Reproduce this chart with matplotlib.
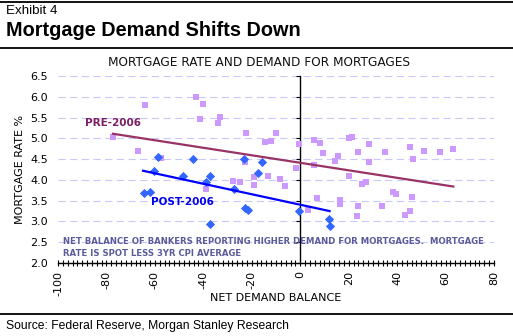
import numpy as np
import matplotlib
matplotlib.use('Agg')
import matplotlib.pyplot as plt
from matplotlib.ticker import MultipleLocator
from matplotlib.lines import Line2D

plt.rcParams['axes.unicode_minus'] = False

# pre-2006 observations (net demand balance, real mortgage rate)
pre_x = [-77.3, -67.1, -64.0, -57.6, -43.2, -40.3, -41.4, -33.2, -34.0, -22.4,
         -22.6, -27.9, -24.8, -38.8, -19.0, -18.9, -9.9, -14.6, -12.1, -0.3,
         -1.9, -13.1, -8.3, -6.1, 5.5, 8.2, 9.6, 5.5, 7.1, 3.1,
         14.2, 15.8, 20.0, 21.4, 24.0, 20.3, 16.6, 16.6, 23.9, 23.5,
         25.6, 27.2, 28.6, 28.6, 35.2, 33.7, 38.2, 39.6, 45.5, 46.5,
         46.0, 45.5, 43.3, 50.9, 57.5, 63.2]
pre_y = [5.04, 4.70, 5.81, 4.53, 5.99, 5.82, 5.47, 5.51, 5.38, 5.14,
         4.42, 3.98, 3.96, 3.78, 3.88, 4.06, 5.14, 4.92, 4.94, 4.87,
         4.28, 4.10, 4.03, 3.86, 4.96, 4.88, 4.65, 4.35, 3.57, 3.28,
         4.46, 4.58, 5.01, 5.04, 4.67, 4.10, 3.52, 3.41, 3.38, 3.13,
         3.90, 3.95, 4.87, 4.42, 4.66, 3.36, 3.71, 3.66, 4.79, 4.50,
         3.59, 3.25, 3.16, 4.70, 4.68, 4.75]

# post-2006 observations
post_x = [-64.7, -62.2, -60.5, -58.7, -48.2, -44.4, -39.1, -37.2, -37.3, -27.3,
          -23.3, -22.8, -21.4, -17.6, -15.8, -0.7, 11.7, 12.1]
post_y = [3.69, 3.70, 4.22, 4.54, 4.10, 4.50, 3.94, 4.10, 2.93, 3.78,
          4.50, 3.33, 3.28, 4.17, 4.42, 3.25, 3.06, 2.89]

# trend lines
pre_trend_x = [-77.3, 63.2]
pre_trend_y = [5.11, 3.84]
post_trend_x = [-64.9, 12.1]
post_trend_y = [4.22, 3.25]

x_ticks = list(range(-100, 81, 20))
y_ticks = [2.0, 2.5, 3.0, 3.5, 4.0, 4.5, 5.0, 5.5, 6.0, 6.5]

fig = plt.figure(figsize=(5.13, 3.36), dpi=100)
ax = fig.add_axes([58 / 513, 1 - 263 / 336, 436 / 513, 187 / 336])

ax.scatter(pre_x, pre_y, marker='s', s=22, color='#cc99ff', linewidths=0, zorder=3)
ax.scatter(post_x, post_y, marker='D', s=22, color='#3366ff', linewidths=0, zorder=4)
ax.plot(pre_trend_x, pre_trend_y, color='#993366', lw=1.6, zorder=5)
ax.plot(post_trend_x, post_trend_y, color='#0000ff', lw=1.6, zorder=5)

ax.set_xlim(-100, 80)
ax.set_ylim(2.0, 6.5)

# grid
ax.set_axisbelow(True)
ax.set_yticks(y_ticks)
ax.yaxis.grid(True, color='#c8c8fa', lw=0.8, linestyle=(0, (6.5, 4)))

# x axis along the bottom
ax.spines['top'].set_visible(False)
ax.spines['right'].set_visible(False)
ax.spines['bottom'].set_linewidth(1.0)
ax.set_xticks(x_ticks)
ax.xaxis.set_minor_locator(MultipleLocator(2))
ax.tick_params(axis='x', which='both', direction='inout', length=5, width=0.8, pad=3,
               labelsize=8, labelrotation=90)

# y axis crosses at zero, labels stay on the left
ax.spines['left'].set_position(('data', 0))
ax.spines['left'].set_linewidth(1.0)
ax.tick_params(axis='y', direction='out', length=3, width=0.8, labelleft=False)
sec = ax.secondary_yaxis('left')
sec.spines['left'].set_visible(False)
sec.set_yticks(y_ticks)
sec.set_yticklabels(['%.1f' % v for v in y_ticks])
sec.tick_params(length=0, pad=7, labelsize=8)
sec.set_ylabel('MORTGAGE RATE %', fontsize=8, labelpad=4)

ax.set_xlabel('NET DEMAND BALANCE', fontsize=8, va='center')
ax.xaxis.set_label_coords(0.5, -0.185)

ax.text(-89, 5.38, 'PRE-2006', color='#7a1f66', fontsize=7.5, fontweight='bold', va='center')
ax.text(-61.5, 3.46, 'POST-2006', color='#0000ee', fontsize=7.5, fontweight='bold', va='center')
ax.text(-98, 2.37, 'NET BALANCE OF BANKERS REPORTING HIGHER DEMAND FOR MORTGAGES.  MORTGAGE\n'
        'RATE IS SPOT LESS 3YR CPI AVERAGE', color='#5b5b9b', fontsize=6.1,
        fontweight='bold', va='center', linespacing=1.4, zorder=6)

# header and footer
fig.text(0.505, 1 - 62 / 336, 'MORTGAGE RATE AND DEMAND FOR MORTGAGES', fontsize=8.7,
         ha='center', va='center', color='#111111')
fig.text(6 / 513, 1 - 11 / 336, 'Exhibit 4', fontsize=9.6, family='Liberation Sans',
         va='center')
fig.text(6 / 513, 1 - 31 / 336, 'Mortgage Demand Shifts Down', fontsize=14.3, family='Liberation Sans',
         fontweight='bold', va='center')
fig.text(6 / 513, 1 - 326 / 336, 'Source: Federal Reserve, Morgan Stanley Research', fontsize=8.7,
         family='Liberation Sans', va='center')
for yy in [2, 47.5, 314]:
    fig.add_artist(Line2D([0, 1], [1 - yy / 336] * 2, color='black', lw=1.3,
                          transform=fig.transFigure))

fig.savefig('out.png', dpi=100)
